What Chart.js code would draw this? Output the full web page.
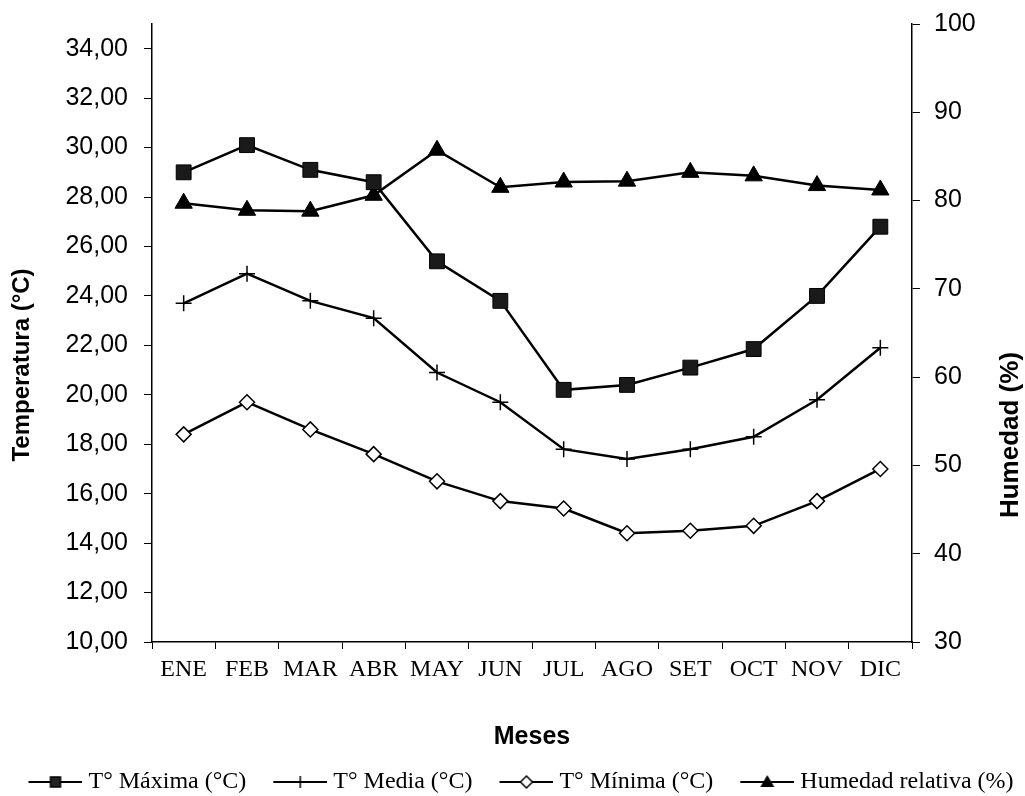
<!DOCTYPE html>
<html>
<head>
<meta charset="utf-8">
<script src="https://cdn.jsdelivr.net/npm/chart.js@4/dist/chart.umd.min.js"></script>
<style>
  body { margin: 0; background: #fff; }
  #wrap { width: 1025px; height: 796px; }
</style>
</head>
<body>
<div id="wrap"><canvas id="myChart" width="1025" height="796"></canvas></div>
<script>
// Meses y valores
const meses = ['ENE','FEB','MAR','ABR','MAY','JUN','JUL','AGO','SET','OCT','NOV','DIC']
const tMaxima = [29.0, 30.1, 29.1, 28.6, 25.4, 23.8, 20.2, 20.4, 21.1, 21.85, 24.0, 26.8]
const tMedia = [23.7, 24.9, 23.8, 23.1, 20.9, 19.7, 17.8, 17.4, 17.8, 18.3, 19.8, 21.9]
const tMinima = [18.4, 19.7, 18.6, 17.6, 16.5, 15.7, 15.4, 14.4, 14.5, 14.7, 15.7, 17.0]
const humedad = [79.7, 78.9, 78.8, 80.6, 85.7, 81.5, 82.1, 82.2, 83.2, 82.8, 81.7, 81.2]

const tempTicks = [10, 12, 14, 16, 18, 20, 22, 24, 26, 28, 30, 32, 34]
const humTicks = [30, 40, 50, 60, 70, 80, 90, 100]

const SANS = "'Liberation Sans', Arial, sans-serif"
const SERIF = "'Liberation Serif', 'Times New Roman', serif"

// legend symbol: line with the marker, drawn on the right part of a wider
// transparent canvas so the text sits close to it
function legendSymbol(kind) {
  const c = document.createElement('canvas')
  c.width = 77
  c.height = 20
  const g = c.getContext('2d')
  const x0 = 23
  const cx = x0 + 27
  g.strokeStyle = '#000'
  g.fillStyle = '#000'
  g.lineWidth = 2
  g.beginPath()
  g.moveTo(x0, 10)
  g.lineTo(x0 + 54, 10)
  g.stroke()
  g.lineWidth = 1.5
  if (kind === 'square') {
    g.fillStyle = '#222'
    g.fillRect(cx - 5, 5, 10, 10)
    g.strokeRect(cx - 5, 5, 10, 10)
  } else if (kind === 'cross') {
    g.beginPath()
    g.moveTo(cx, 4)
    g.lineTo(cx, 16)
    g.stroke()
  } else if (kind === 'diamond') {
    g.fillStyle = '#fff'
    g.beginPath()
    g.moveTo(cx - 6, 10)
    g.lineTo(cx, 4)
    g.lineTo(cx + 6, 10)
    g.lineTo(cx, 16)
    g.closePath()
    g.fill()
    g.stroke()
  } else {
    g.beginPath()
    g.moveTo(cx, 3)
    g.lineTo(cx + 7, 15)
    g.lineTo(cx - 7, 15)
    g.closePath()
    g.fill()
  }
  return c
}

// both y axis titles read bottom to top
const axisTitles = {
  id: 'axisTitles',
  afterDraw(chart) {
    const ctx = chart.ctx
    const ya = chart.scales.y
    const yb = chart.scales.y1
    const mid = (ya.top + ya.bottom) / 2
    ctx.save()
    ctx.fillStyle = '#000'
    ctx.textAlign = 'center'
    ctx.textBaseline = 'middle'
    ctx.font = 'bold 24px ' + SANS

    ctx.save()
    ctx.translate(ya.left + 22, mid + 32)
    ctx.rotate(-Math.PI / 2)
    ctx.fillText('Temperatura (°C)', 0, 0)
    ctx.restore()

    ctx.save()
    ctx.font = 'bold 26px ' + SANS
    ctx.translate(yb.right - 14, mid + 102)
    ctx.rotate(-Math.PI / 2)
    ctx.fillText('Humedad (%)', 0, 0)
    ctx.restore()

    ctx.restore()
  }
}

const ctx = document.getElementById('myChart')
const myChart = new Chart(ctx, {
  type: 'line',
  data: {
    labels: meses,
    datasets: [{
      label: 'T° Máxima (°C)',
      data: tMaxima,
      yAxisID: 'y',
      borderColor: '#000',
      borderWidth: 2.5,
      pointStyle: 'rect',
      pointRadius: 10.5,
      pointBackgroundColor: '#1a1a1a',
      pointBorderColor: '#000',
      pointBorderWidth: 1,
      legendSymbol: legendSymbol('square')
    },
    {
      label: 'T° Media (°C)',
      data: tMedia,
      yAxisID: 'y',
      borderColor: '#000',
      borderWidth: 2.5,
      pointStyle: 'cross',
      pointRadius: 8,
      pointBorderColor: '#000',
      pointBorderWidth: 1.5,
      legendSymbol: legendSymbol('cross')
    },
    {
      label: 'T° Mínima (°C)',
      data: tMinima,
      yAxisID: 'y',
      borderColor: '#000',
      borderWidth: 2.5,
      pointStyle: 'rectRot',
      pointRadius: 7.5,
      pointBackgroundColor: '#fff',
      pointBorderColor: '#000',
      pointBorderWidth: 1.5,
      legendSymbol: legendSymbol('diamond')
    },
    {
      label: 'Humedad relativa (%)',
      data: humedad,
      yAxisID: 'y1',
      borderColor: '#000',
      borderWidth: 2.5,
      pointStyle: 'triangle',
      pointRadius: 10,
      pointBackgroundColor: '#000',
      pointBorderColor: '#000',
      pointBorderWidth: 1,
      legendSymbol: legendSymbol('triangle')
    }]
  },
  options: {
    responsive: false,
    animation: false,
    layout: {
      padding: { top: 24, left: 0, right: 0, bottom: -8 }
    },
    scales: {
      x: {
        offset: true,
        grid: {
          offset: true,
          drawOnChartArea: false,
          color: '#000',
          tickLength: 7,
          tickWidth: 1
        },
        border: { display: true, color: '#000', width: 1.5 },
        ticks: {
          color: '#000',
          padding: 6,
          maxRotation: 0,
          autoSkip: false,
          font: { family: SERIF, size: 24 }
        },
        title: {
          display: true,
          text: 'Meses',
          color: '#000',
          padding: { top: 0, bottom: 8 },
          font: { family: SANS, size: 25, weight: 'bold' }
        },
        afterFit: function(scale) {
          scale.height = 118
        }
      },
      y: {
        position: 'left',
        min: 10,
        max: 35,
        grid: {
          drawOnChartArea: false,
          color: '#000',
          tickLength: 8
        },
        border: { display: true, color: '#000', width: 1.5 },
        afterBuildTicks: function(scale) {
          scale.ticks = tempTicks.map(v => ({ value: v }))
        },
        ticks: {
          color: '#000',
          padding: 16,
          font: { family: SANS, size: 25 },
          callback: function(value) {
            return Number(value).toFixed(2).replace('.', ',')
          }
        },
        afterFit: function(scale) {
          scale.width = 152
          scale.paddingTop = 0
          scale.paddingBottom = 0
        }
      },
      y1: {
        position: 'right',
        min: 30,
        max: 100,
        grid: {
          drawOnChartArea: false,
          color: '#000',
          tickLength: 8
        },
        border: { display: true, color: '#000', width: 1.5 },
        afterBuildTicks: function(scale) {
          scale.ticks = humTicks.map(v => ({ value: v }))
        },
        ticks: {
          color: '#000',
          padding: 14,
          font: { family: SANS, size: 25 }
        },
        afterFit: function(scale) {
          scale.width = 113
          scale.paddingTop = 0
          scale.paddingBottom = 0
        }
      }
    },
    plugins: {
      legend: {
        position: 'bottom',
        labels: {
          color: '#000',
          usePointStyle: true,
          pointStyleWidth: 65,
          padding: 10,
          font: { family: SERIF, size: 24, lineHeight: 1 },
          generateLabels: function(chart) {
            return chart.data.datasets.map((ds, i) => ({
              text: ds.label,
              pointStyle: ds.legendSymbol,
              fontColor: '#000',
              lineWidth: 0,
              hidden: false,
              datasetIndex: i
            }))
          }
        }
      },
      tooltip: { enabled: false }
    }
  },
  plugins: [axisTitles]
})
</script>
</body>
</html>
